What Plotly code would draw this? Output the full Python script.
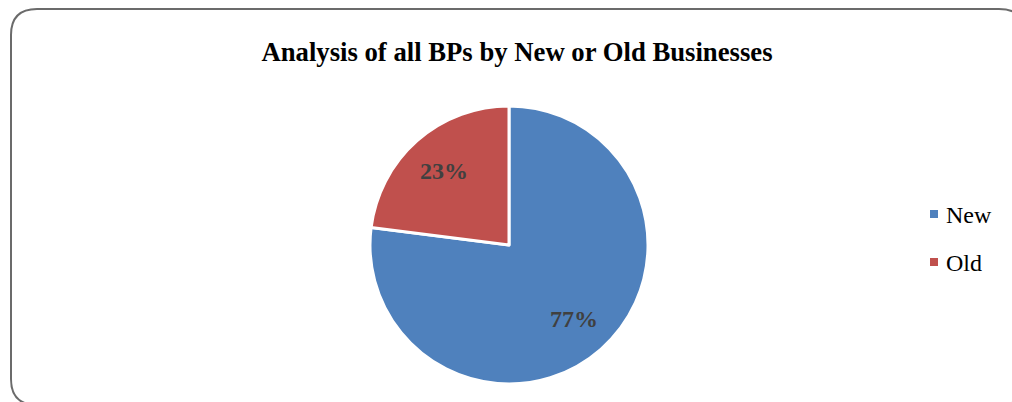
import math
import plotly.graph_objects as go

W, H = 1012, 402
categories = ["New", "Old"]
values = [77, 23]
colors = ["#4F81BD", "#C0504D"]
title_text = "Analysis of all BPs by New or Old Businesses"

def px(x):
    return x / W

def py(y):
    return 1 - y / H

# pie geometry (pixels)
CX, CY, R = 509, 245, 139

fig = go.Figure(go.Pie(
    labels=categories,
    values=values,
    marker=dict(colors=colors, line=dict(color="white", width=3)),
    sort=False,
    direction="clockwise",
    rotation=0,
    textinfo="none",
    domain=dict(x=[px(CX - R), px(CX + R)], y=[py(CY + R), py(CY - R)]),
    hoverinfo="label+percent",
    showlegend=False,
))

# percentage labels placed along each slice's mid-angle (Excel style, ~0.72 R)
total = sum(values)
cum = 0
for v in values:
    mid = (cum + v / 2) / total * 2 * math.pi
    cum += v
    lx = CX + 0.71 * R * math.sin(mid)
    ly = CY - 0.71 * R * math.cos(mid)
    fig.add_annotation(
        x=px(lx), y=py(ly), xref="paper", yref="paper",
        text=f"<b>{round(v / total * 100)}%</b>", showarrow=False,
        xanchor="center", yanchor="middle",
        font=dict(family="Liberation Serif", size=24, color="#404040"),
    )

# legend (Excel style: small squares, wide spacing)
LX, LY0, LDY, SQ = 930, 214, 48, 8
for i, (name, col) in enumerate(zip(categories, colors)):
    yc = LY0 + i * LDY
    fig.add_shape(type="rect", xref="paper", yref="paper",
                  x0=px(LX), x1=px(LX + SQ), y0=py(yc + SQ / 2), y1=py(yc - SQ / 2),
                  fillcolor=col, line=dict(width=0))
    fig.add_annotation(x=px(LX + SQ + 6), y=py(yc + 1), xref="paper", yref="paper",
                       text=name, showarrow=False, xanchor="left", yanchor="middle",
                       font=dict(family="Liberation Serif", size=24, color="black"))

# rounded border
x0, y0, x1, y1, r = 11, 9, 1025, 405, 26
path = (
    f"M {px(x0+r)},{py(y0)} L {px(x1-r)},{py(y0)} Q {px(x1)},{py(y0)} {px(x1)},{py(y0+r)} "
    f"L {px(x1)},{py(y1-r)} Q {px(x1)},{py(y1)} {px(x1-r)},{py(y1)} "
    f"L {px(x0+r)},{py(y1)} Q {px(x0)},{py(y1)} {px(x0)},{py(y1-r)} "
    f"L {px(x0)},{py(y0+r)} Q {px(x0)},{py(y0)} {px(x0+r)},{py(y0)} Z"
)
fig.add_shape(type="path", path=path, xref="paper", yref="paper",
              line=dict(color="#6b6b6b", width=2))

fig.update_layout(
    width=W, height=H,
    margin=dict(l=0, r=0, t=0, b=0),
    paper_bgcolor="white",
    plot_bgcolor="white",
    title=dict(text=f"<b>{title_text}</b>", x=px(517), xanchor="center",
               y=py(52), yanchor="middle",
               font=dict(family="Liberation Serif", size=26.7, color="black")),
    showlegend=False,
)

fig.write_html("out.html", config={"displayModeBar": False},
               post_script="document.body.style.margin='0px';")
